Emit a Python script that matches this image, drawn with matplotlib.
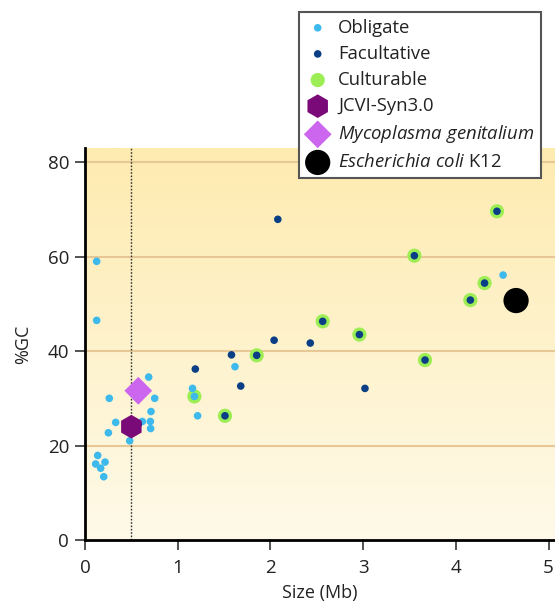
import numpy as np
import matplotlib
matplotlib.use("Agg")
import matplotlib.pyplot as plt
from matplotlib.colors import LinearSegmentedColormap

plt.rcParams['font.family'] = ['Open Sans', 'DejaVu Sans']
plt.rcParams['mathtext.fontset'] = 'custom'
plt.rcParams['mathtext.rm'] = 'Open Sans'
plt.rcParams['mathtext.it'] = 'Open Sans:italic'

# ---- data ----
obligate_x = [0.126, 0.126, 0.687, 0.262, 0.752, 0.712, 0.331, 0.618, 0.705, 0.708, 0.252,
              0.482, 0.137, 0.115, 0.216, 0.169, 0.202, 1.16, 1.18, 1.215, 1.618, 4.51]
obligate_y = [59.0, 46.5, 34.5, 30.0, 30.0, 27.2, 24.9, 25.1, 25.1, 23.6, 22.7,
              21.0, 17.9, 16.1, 16.5, 15.2, 13.4, 32.1, 30.4, 26.3, 36.7, 56.1]

facultative_x = [0.575, 1.19, 2.08, 2.04, 2.43, 1.58, 1.68, 3.02,
                 1.51, 1.852, 2.564, 2.96, 3.553, 3.668, 4.157, 4.31, 4.444]
facultative_y = [24.5, 36.2, 67.9, 42.3, 41.7, 39.2, 32.6, 32.1,
                 26.3, 39.1, 46.3, 43.5, 60.2, 38.1, 50.8, 54.4, 69.6]

culturable_x = [1.18, 1.51, 1.852, 2.564, 2.96, 3.553, 3.668, 4.157, 4.31, 4.444]
culturable_y = [30.4, 26.3, 39.1, 46.3, 43.5, 60.2, 38.1, 50.8, 54.4, 69.6]

jcvi = (0.50, 24.0)
mgen = (0.575, 31.6)
ecoli = (4.65, 50.7)
min_genome_line = 0.50

x_ticks = [0, 1, 2, 3, 4, 5]
y_ticks = [0, 20, 40, 60, 80]

legend_labels = ['Obligate', 'Facultative', 'Culturable', 'JCVI-Syn3.0',
                 r'$\mathit{Mycoplasma\ genitalium}$',
                 r'$\mathit{Escherichia\ coli}$ K12']

# ---- figure ----
fig = plt.figure(figsize=(5.55, 6.01), dpi=100)
ax = fig.add_axes([85/555, 1-540/601, 1-85/555, (540-148)/601])
ax.set_xlim(0, 5.07)
ax.set_ylim(0, 83.0)

# gradient background
cmap = LinearSegmentedColormap.from_list('bg', ['#FFFAE9', '#FEEBB0'])
grad = np.linspace(0, 1, 256).reshape(-1, 1)
ax.imshow(grad, extent=[0, 5.07, 0, 83.0], origin='lower', aspect='auto',
          cmap=cmap, zorder=0)

for yv in [20, 40, 60, 80]:
    ax.axhline(yv, color='#E6C795', lw=1.5, zorder=1)

ax.axvline(min_genome_line, color='#333333', lw=1.0, ls=(0, (1.2, 1.2)), zorder=2)

s_cult = ax.scatter(culturable_x, culturable_y, s=105, color='#9DEE55', edgecolors='none',
                    zorder=3)
s_obl = ax.scatter(obligate_x, obligate_y, s=30, color='#3DB9EC', edgecolors='none',
                   zorder=4)
s_fac = ax.scatter(facultative_x, facultative_y, s=30, color='#0A3F86', edgecolors='none',
                   zorder=5)
s_jcvi = ax.scatter([jcvi[0]], [jcvi[1]], s=290, marker='h', color='#7A0A78',
                    edgecolors='none', zorder=6)
s_mgen = ax.scatter([mgen[0]], [mgen[1]], s=200, marker='D', color='#CD66EE',
                    edgecolors='none', zorder=6)
s_eco = ax.scatter([ecoli[0]], [ecoli[1]], s=330, color='black', edgecolors='none',
                   zorder=6)

ax.set_xticks(x_ticks)
ax.set_yticks(y_ticks)
ax.tick_params(axis='both', direction='out', length=7.5, width=1.3, color='#444444',
               labelsize=13.5, labelcolor='#222222')
ax.tick_params(axis='x', pad=6)
ax.tick_params(axis='y', pad=4)
for side in ['top', 'right']:
    ax.spines[side].set_visible(False)
for side in ['left', 'bottom']:
    ax.spines[side].set_linewidth(2)
    ax.spines[side].set_color('black')
    ax.spines[side].set_zorder(7)

ax.set_xlabel('Size (Mb)', fontsize=13, color='#222222', labelpad=5)
ax.set_ylabel('%GC', fontsize=13, color='#222222', labelpad=11)

handles = [s_obl, s_fac, s_cult, s_jcvi, s_mgen, s_eco]
leg = fig.legend(handles, legend_labels,
                 loc='upper right', bbox_to_anchor=(541/555, 1-12/601),
                 fontsize=13.3, frameon=True, fancybox=False, framealpha=1,
                 edgecolor='#555555', scatterpoints=1, handletextpad=0.45,
                 labelspacing=0.44, borderpad=0.36, handlelength=1.3,
                 borderaxespad=0)
leg.get_frame().set_linewidth(1.5)
for t in leg.get_texts():
    t.set_color('#222222')

fig.savefig('out.png', dpi=100)
